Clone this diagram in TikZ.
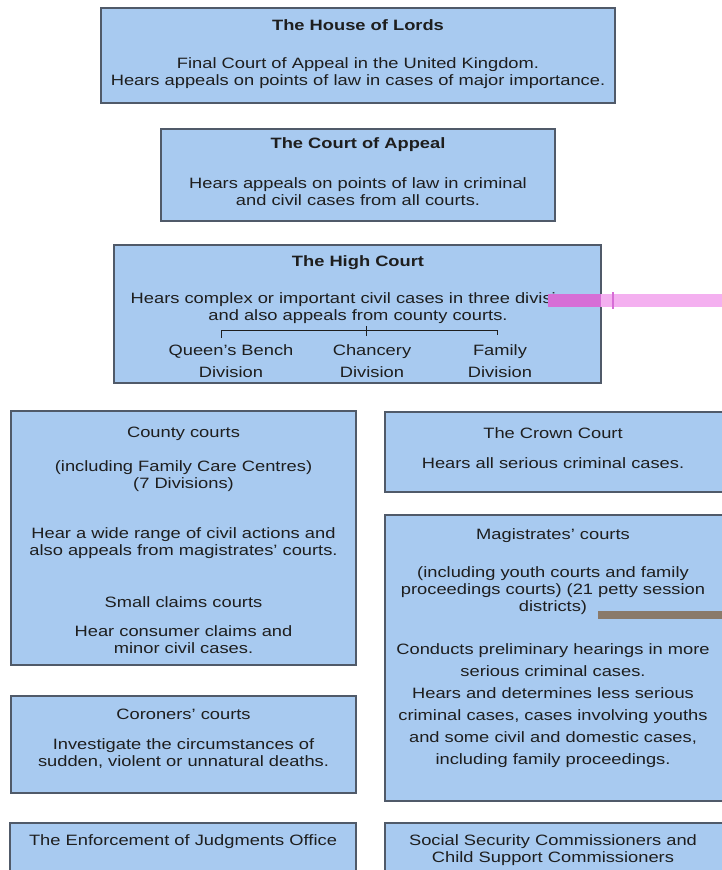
\documentclass[tikz,border=0pt]{standalone}
\usepackage{fontspec}
\setmainfont{Liberation Sans}[FakeStretch=1.22]
\definecolor{boxfill}{RGB}{168,202,240}
\definecolor{boxline}{RGB}{80,90,105}
\definecolor{ink}{RGB}{30,30,30}
\definecolor{pinkbar}{RGB}{244,176,240}
\definecolor{magbar}{RGB}{214,110,214}
\definecolor{brownbar}{RGB}{138,122,106}

\begin{document}
\begin{tikzpicture}[x=1pt, y=-1pt, line width=1.5pt,
    court/.style={draw=boxline, fill=boxfill},
    txt/.style={align=center, inner sep=0pt, text=ink, font=\fontsize{15}{17}\selectfont},
    head/.style={txt, font=\fontsize{15}{17}\selectfont\bfseries}]
    \useasboundingbox (0,0) rectangle (722,870);
    \clip (0,0) rectangle (722,870);

    % House of Lords
    \draw[court] (101,8) rectangle (615,103);
    \node[head] (lords) at (358,25) {The House of Lords};
    \node[txt] (lordstxt) at (358,73) {Final Court of Appeal in the United Kingdom.\\Hears appeals on points of law in cases of major importance.};

    % Court of Appeal
    \draw[court] (161,129) rectangle (555,221);
    \node[head] (appeal) at (358,145) {The Court of Appeal};
    \node[txt] (appealtxt) at (358,191.5) {Hears appeals on points of law in criminal\\and civil cases from all courts.};

    % High Court
    \draw[court] (114,245) rectangle (601,383);
    \node[head] (high) at (358,263) {The High Court};
    \node[txt] (hightxt) at (358,308.5) {Hears complex or important civil cases in three divisions\\and also appeals from county courts.};
    \fill[magbar] (548,294) rectangle (601,307);
    \fill[pinkbar] (601,294) rectangle (722,307);
    \draw[magbar, line width=2pt] (613,292) -- (613,309);
    \draw[ink, line width=1pt] (221,330) -- (497,330);
    \draw[ink, line width=1pt] (221,330) -- (221,338);
    \draw[ink, line width=1pt] (366,326) -- (366,336);
    \draw[ink, line width=1pt] (497,330) -- (497,335);
    \foreach \x/\name/\lbl in {231/qbd/Queen's Bench, 372/chd/Chancery, 500/fad/Family}
        \node[txt, font=\fontsize{15}{22}\selectfont] (\name) at (\x,361) {\lbl\\Division};

    % County courts
    \draw[court] (11,411) rectangle (356,665);
    \node[txt] (county) at (183.5,434) {County courts};
    \node[txt] (countya) at (183.5,476.5) {(including Family Care Centres)\\(7 Divisions)};
    \node[txt] (countyb) at (183.5,543.5) {Hear a wide range of civil actions and\\also appeals from magistrates' courts.};
    \node[txt] (small) at (183.5,602) {Small claims courts};
    \node[txt] (smalltxt) at (183.5,639.5) {Hear consumer claims and\\minor civil cases.};

    % Crown Court
    \draw[court] (385,412) rectangle (740,492);
    \node[txt] (crown) at (553,433) {The Crown Court};
    \node[txt] (crowntxt) at (553,463) {Hears all serious criminal cases.};

    % Magistrates' courts
    \draw[court] (385,515) rectangle (740,801);
    \node[txt] (magis) at (553,536) {Magistrates' courts};
    \node[txt] (magisa) at (553,591) {(including youth courts and family\\proceedings courts) (21 petty session\\districts)};
    \fill[brownbar] (598,611) rectangle (722,619);
    \node[txt, font=\fontsize{15}{22}\selectfont] (magisb) at (553,706) {Conducts preliminary hearings in more\\serious criminal cases.\\Hears and determines less serious\\criminal cases, cases involving youths\\and some civil and domestic cases,\\including family proceedings.};

    % Coroners' courts
    \draw[court] (11,696) rectangle (356,793);
    \node[txt] (coroner) at (183.5,714) {Coroners' courts};
    \node[txt] (coronertxt) at (183.5,753.5) {Investigate the circumstances of\\sudden, violent or unnatural deaths.};

    % Bottom row
    \draw[court] (10,823) rectangle (356,900);
    \node[txt] (enforce) at (183,842) {The Enforcement of Judgments Office};
    \draw[court] (385,823) rectangle (740,900);
    \node[txt] (social) at (553,850.5) {Social Security Commissioners and\\Child Support Commissioners};
\end{tikzpicture}
\end{document}
